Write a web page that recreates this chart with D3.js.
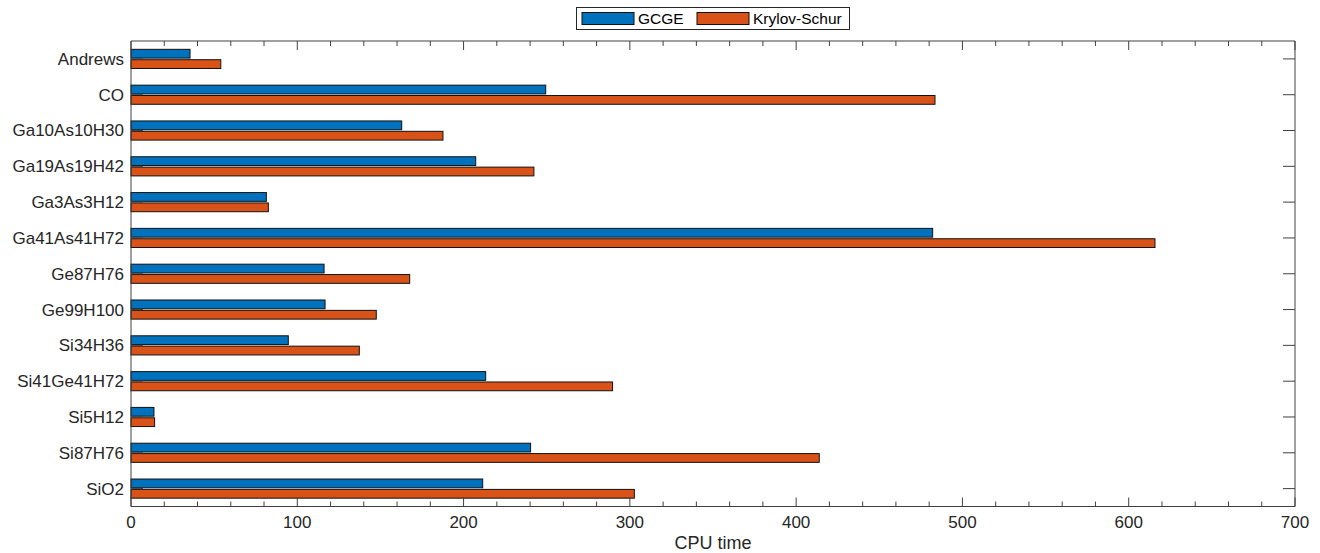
<!DOCTYPE html>
<html>
<head>
<meta charset="utf-8">
<script src="https://cdn.jsdelivr.net/npm/d3@7"></script>
<style>
  body { margin: 0; background: #fff; }
  text { font-family: "Liberation Sans", Arial, Helvetica, sans-serif; }
</style>
</head>
<body>
<div id="plot" style="width:1320px;height:553px;"></div>
<script>
// data
var categories = ["Andrews", "CO", "Ga10As10H30", "Ga19As19H42", "Ga3As3H12", "Ga41As41H72",
  "Ge87H76", "Ge99H100", "Si34H36", "Si41Ge41H72", "Si5H12", "Si87H76", "SiO2"];
var gcge = [35.5, 249.4, 162.8, 207.3, 81.4, 482.1, 116.1, 116.7, 94.6, 213.3, 13.8, 240.3, 211.5];
var krylov = [54, 483.5, 187.6, 242.3, 82.6, 615.8, 167.6, 147.5, 137.3, 289.6, 14.2, 413.9, 302.7];
var seriesNames = ["GCGE", "Krylov-Schur"];
var xTicks = [0, 100, 200, 300, 400, 500, 600, 700];

var colours = ["#0072BD", "#D95319"];
var w = 1320, h = 553;
// plot box (note: "top" is reserved on window, so use prefixed names)
var padLeft = 131, padRight = 1295, padTop = 41, padBottom = 506.5;

var svg = d3.select("#plot").append("svg")
    .attr("width", w)
    .attr("height", h);

var xScale = d3.scaleLinear().domain([0, 700]).range([padLeft, padRight]);
var yScale = d3.scaleBand().domain(categories).range([padTop, padBottom]);
var band = yScale.bandwidth();
var barH = 0.245 * band;
var gap = 0.8;

// bars
var series = [gcge, krylov];
series.forEach(function(vals, si) {
  svg.selectAll(".bar" + si)
      .data(vals)
      .enter().append("rect")
      .attr("class", "bar" + si)
      .attr("x", xScale(0))
      .attr("y", function(d, i) {
        var c = yScale(categories[i]) + band / 2;
        return si === 0 ? c - gap - barH : c + gap;
      })
      .attr("width", function(d) { return xScale(d) - xScale(0); })
      .attr("height", barH)
      .attr("fill", colours[si])
      .attr("stroke", "#111")
      .attr("stroke-width", 1);
});

// axes (ticks pointing inward, MATLAB-ish)
var axisCol = "#404040";
var minor = d3.range(0, 701, 20);

function xAxisAt(y, dir) {
  var g = svg.append("g").attr("class", "axis");
  g.selectAll("line.t")
      .data(minor)
      .enter().append("line")
      .attr("x1", function(d) { return xScale(d); })
      .attr("x2", function(d) { return xScale(d); })
      .attr("y1", y)
      .attr("y2", function(d) { return y + dir * (d % 100 === 0 ? 9 : 5); })
      .attr("stroke", axisCol);
  g.append("line")
      .attr("x1", padLeft).attr("x2", padRight)
      .attr("y1", y).attr("y2", y)
      .attr("stroke", axisCol);
}
xAxisAt(padBottom, -1);
xAxisAt(padTop, 1);

function yAxisAt(x, dir) {
  var g = svg.append("g").attr("class", "axis");
  g.selectAll("line.t")
      .data(categories)
      .enter().append("line")
      .attr("x1", x)
      .attr("x2", x + dir * 12)
      .attr("y1", function(d) { return yScale(d) + band / 2; })
      .attr("y2", function(d) { return yScale(d) + band / 2; })
      .attr("stroke", axisCol);
  g.append("line")
      .attr("x1", x).attr("x2", x)
      .attr("y1", padTop).attr("y2", padBottom)
      .attr("stroke", axisCol);
}
yAxisAt(padLeft, 1);
yAxisAt(padRight, -1);

// tick labels
svg.selectAll(".xlab")
    .data(xTicks)
    .enter().append("text")
    .attr("x", function(d) { return xScale(d); })
    .attr("y", 528)
    .attr("text-anchor", "middle")
    .attr("font-size", 17)
    .attr("fill", "#262626")
    .text(function(d) { return d; });

svg.selectAll(".ylab")
    .data(categories)
    .enter().append("text")
    .attr("x", padLeft - 7)
    .attr("y", function(d) { return yScale(d) + band / 2; })
    .attr("dy", "0.35em")
    .attr("text-anchor", "end")
    .attr("font-size", 17)
    .attr("fill", "#262626")
    .text(function(d) { return d; });

svg.append("text")
    .attr("x", (padLeft + padRight) / 2)
    .attr("y", 549)
    .attr("text-anchor", "middle")
    .attr("font-size", 18)
    .attr("fill", "#262626")
    .text("CPU time");

// legend
var lg = svg.append("g");
lg.append("rect")
    .attr("x", 576.5).attr("y", 7.5)
    .attr("width", 273).attr("height", 22)
    .attr("fill", "#fff")
    .attr("stroke", "#262626");
var lx = [582, 697];
seriesNames.forEach(function(name, i) {
  lg.append("rect")
      .attr("x", lx[i]).attr("y", 12.5)
      .attr("width", 52).attr("height", 12)
      .attr("fill", colours[i])
      .attr("stroke", "#111");
  lg.append("text")
      .attr("x", lx[i] + 56).attr("y", 18.5)
      .attr("dy", "0.35em")
      .attr("font-size", 15.5)
      .attr("fill", "#000")
      .text(name);
});
</script>
</body>
</html>
